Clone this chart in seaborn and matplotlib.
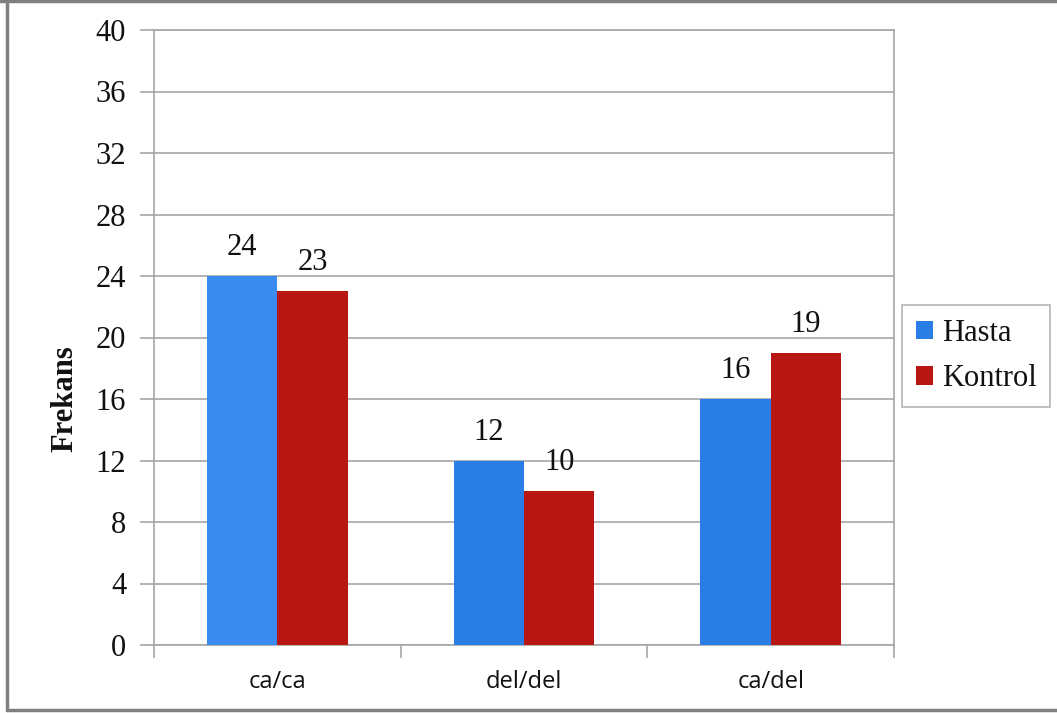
import matplotlib
matplotlib.use("Agg")
import matplotlib.pyplot as plt
from matplotlib.lines import Line2D
import seaborn as sns
import pandas as pd

genotypes = ["ca/ca", "del/del", "ca/del"]
hasta = [24, 12, 16]
kontrol = [23, 10, 19]
groups = ["Hasta", "Kontrol"]
y_ticks = list(range(0, 41, 4))

df = pd.DataFrame({
    "Genotip": genotypes * 2,
    "Grup": [groups[0]] * 3 + [groups[1]] * 3,
    "Frekans": hasta + kontrol,
})

sns.set_style("white")
serif = ["Liberation Serif", "DejaVu Serif"]
sans = ["Open Sans", "Liberation Sans", "DejaVu Sans"]

W, H = 1057, 713
fig = plt.figure(figsize=(W / 100, H / 100), dpi=100)
ax = fig.add_axes([154 / W, 68 / H, 740 / W, 615 / H])

palette = {"Hasta": "#2a7de4", "Kontrol": "#b71612"}
sns.barplot(data=df, x="Genotip", y="Frekans", hue="Grup", order=genotypes,
            hue_order=groups, palette=palette, width=0.57, saturation=1,
            edgecolor="none", ax=ax, zorder=3)
# first blue bar is a touch lighter
ax.containers[0].patches[0].set_facecolor("#3a8bf0")

for cont in ax.containers:
    ax.bar_label(cont, labels=[f"{v:g}" for v in cont.datavalues], padding=10,
                 fontsize=22, family=serif, color="#111111")

ax.set_ylim(0, 40)
ax.set_xlim(-0.5, 2.5)
ax.set_yticks(y_ticks)
ax.set_yticklabels([str(t) for t in y_ticks], family=serif, fontsize=22)
ax.yaxis.grid(True, color="#a6a6a6", linewidth=1.2, zorder=0)
ax.set_axisbelow(True)
ax.tick_params(axis="y", which="major", length=10, width=1.2, color="#a6a6a6",
               direction="out", pad=10, left=True, labelcolor="#111111")
ax.set_xticks(range(len(genotypes)))
ax.set_xticklabels(genotypes, family=sans, fontsize=17, color="#111111")
ax.tick_params(axis="x", which="major", length=0, pad=18)
ax.set_xticks([-0.5, 0.5, 1.5, 2.5], minor=True)
ax.tick_params(axis="x", which="minor", length=9, width=1.2, color="#a6a6a6",
               direction="out", bottom=True)
for s in ax.spines.values():
    s.set_color("#a6a6a6")
    s.set_linewidth(1.2)
ax.set_xlabel("")
ax.set_ylabel("Frekans", family=serif, fontsize=22, fontweight="bold",
              color="#111111")
ax.yaxis.set_label_coords((79 - 154) / 740, (645 - 399) / 615)

leg = ax.legend(loc="center left", bbox_to_anchor=(902 / W, 1 - 356 / H),
                bbox_transform=fig.transFigure, prop={"family": serif, "size": 22},
                frameon=True, fancybox=False, edgecolor="#a0a0a0",
                handlelength=0.55, handleheight=0.55, handletextpad=0.3,
                labelspacing=0.55, borderpad=0.45, borderaxespad=0)
leg.get_frame().set_linewidth(1.2)
for t in leg.get_texts():
    t.set_color("#111111")

# page frame: top, left and bottom edges
frame_kw = dict(transform=fig.transFigure, color="#808080", linewidth=2.5)
fig.add_artist(Line2D([0, 1], [1 - 1 / H, 1 - 1 / H], **frame_kw))
fig.add_artist(Line2D([7 / W, 7 / W], [3 / H, 1], **frame_kw))
fig.add_artist(Line2D([7 / W, 1], [3 / H, 3 / H], **frame_kw))

fig.savefig("out.png", dpi=100)
